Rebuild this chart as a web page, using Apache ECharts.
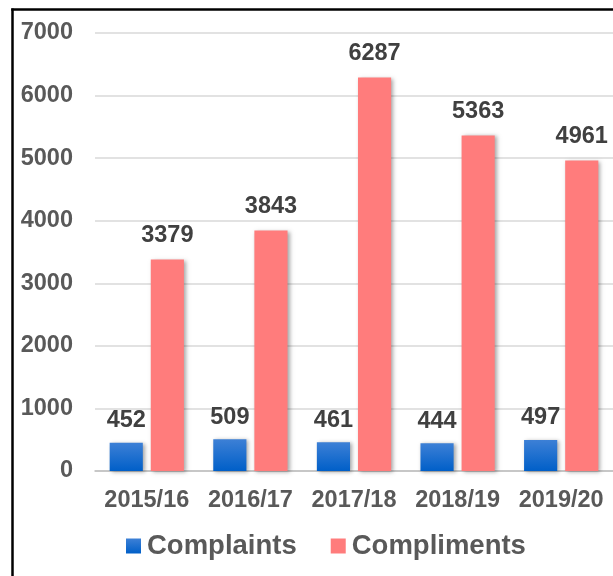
<!DOCTYPE html>
<html><head><meta charset="utf-8">
<script src="https://cdn.jsdelivr.net/npm/echarts@6/dist/echarts.min.js"></script>
<style>
html,body{margin:0;padding:0;background:#fff;overflow:hidden;}
#c{position:absolute;left:0;top:0;width:613px;height:576px;}
</style></head>
<body>
<div id="c"></div>
<script>
const categories = ['2015/16','2016/17','2017/18','2018/19','2019/20'];
const complaints = [452, 509, 461, 444, 497];
const compliments = [3379, 3843, 6287, 5363, 4961];
const seriesNames = ['Complaints','Compliments'];

const chart = echarts.init(document.getElementById('c'));
const font = 'Liberation Sans, Arial, sans-serif';
const label = {show:true, position:'top', distance:10, color:'#404040', fontSize:23.5, fontWeight:'bold', fontFamily:font};
chart.setOption({
  animation:false,
  graphic:[
    {type:'line', silent:true, shape:{x1:12.5, y1:8.5, x2:12.5, y2:576}, style:{stroke:'#000', lineWidth:2.5}},
    {type:'line', silent:true, shape:{x1:11.25, y1:9.5, x2:613, y2:9.5}, style:{stroke:'#000', lineWidth:2.5}}
  ],
  grid:{left:95, right:0, top:33, bottom:105},
  legend:{top:527, left:121, itemWidth:15, itemHeight:15, itemGap:34, icon:'rect',
    textStyle:{color:'#595959', fontSize:27.5, fontWeight:'bold', fontFamily:font, padding:[0,0,0,1]},
    data:seriesNames},
  xAxis:{type:'category', data:categories,
    axisLine:{lineStyle:{color:'#bfbfbf', width:1.5}}, axisTick:{show:false},
    axisLabel:{interval:0, color:'#595959', fontSize:23.5, fontWeight:'bold', fontFamily:font, margin:18}},
  yAxis:{type:'value', min:0, max:7000, interval:1000,
    axisLine:{show:false}, axisTick:{show:false},
    splitLine:{lineStyle:{color:'#d9d9d9', width:1.5}},
    axisLabel:{color:'#595959', fontSize:23.5, fontWeight:'bold', fontFamily:font, margin:22, formatter:v=>String(v)}},
  series:[
    {name:seriesNames[0], type:'bar', data:complaints, barWidth:'32%', barGap:'24%',
      itemStyle:{color:new echarts.graphic.LinearGradient(0,0,0,1,[{offset:0,color:'#3d80d6'},{offset:1,color:'#005fc8'}]),
        shadowColor:'rgba(0,0,0,0.35)', shadowBlur:4, shadowOffsetX:2, shadowOffsetY:1},
      label:label},
    {name:seriesNames[1], type:'bar', data:compliments, barWidth:'32%', barGap:'24%',
      itemStyle:{color:'#ff7c7c', shadowColor:'rgba(0,0,0,0.35)', shadowBlur:4, shadowOffsetX:2, shadowOffsetY:1},
      label:Object.assign({}, label, {distance:12})}
  ]
});
</script>
</body></html>
